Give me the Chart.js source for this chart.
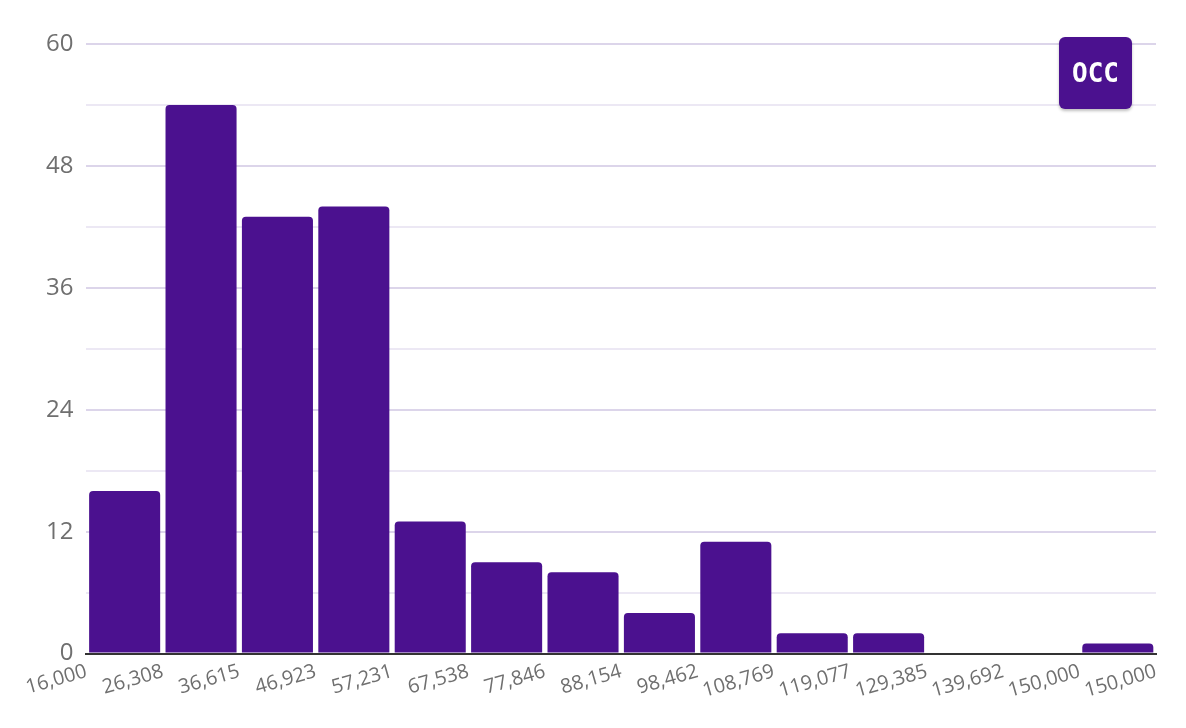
<!DOCTYPE html>
<html lang="es">
<head>
  <meta charset="UTF-8">
  <title>Histograma salarios</title>
  <script src="https://cdn.jsdelivr.net/npm/chart.js"></script>
  <style>
    html, body { margin: 0; padding: 0; background: #fff; }
    #wrap { position: relative; width: 1186px; height: 728px; }
    #logo {
      position: absolute; left: 1059px; top: 37px; width: 73px; height: 72px;
      background: #4b118f; border-radius: 6px; box-shadow: 0 2px 3px rgba(0,0,0,0.25);
      color: #fff; font-family: "DejaVu Sans Mono", monospace; font-weight: bold;
      font-size: 26px; letter-spacing: 0px; text-align: center; line-height: 72px;
      box-sizing: border-box;
    }
  </style>
</head>
<body>
  <div id="wrap">
    <canvas id="grafico" width="1186" height="728"></canvas>
    <div id="logo">OCC</div>
  </div>

  <script>
    // bordes de los intervalos (etiquetas del eje x)
    const bordes = ["16,000", "26,308", "36,615", "46,923", "57,231", "67,538", "77,846",
                    "88,154", "98,462", "108,769", "119,077", "129,385", "139,692", "150,000", "150,000"];
    // frecuencia de cada intervalo
    const frecuencias = [16, 54, 43, 44, 13, 9, 8, 4, 11, 2, 2, 0, 0, 1];

    const puntos = frecuencias.map((f, i) => ({ x: i + 0.5, y: f }));

    const ctx = document.getElementById('grafico').getContext('2d');
    new Chart(ctx, {
      type: 'bar',
      data: {
        datasets: [{
          data: puntos,
          backgroundColor: '#4b118f',
          borderRadius: { topLeft: 4, topRight: 4 },
          borderSkipped: 'bottom',
          barPercentage: 1,
          categoryPercentage: 0.93
        }]
      },
      options: {
        responsive: false,
        animation: false,
        layout: { padding: { left: 33, right: 30, top: 44, bottom: 19 } },
        plugins: { legend: { display: false }, tooltip: { enabled: false } },
        scales: {
          x: {
            type: 'linear',
            min: 0,
            max: 14,
            offset: false,
            grid: { display: false, drawTicks: false },
            border: { display: true, color: '#333', width: 2 },
            ticks: {
              stepSize: 1,
              autoSkip: false,
              minRotation: 16,
              maxRotation: 16,
              padding: 6,
              color: '#6f6f6f',
              font: { family: 'Open Sans', size: 20 },
              callback: (v) => bordes[v]
            }
          },
          y: {
            min: 0,
            max: 60,
            grid: {
              drawTicks: false,
              color: (c) => (c.tick.value % 12 === 0 ? '#dcd5ea' : '#ece8f4'),
              lineWidth: 2
            },
            border: { display: false },
            ticks: {
              stepSize: 6,
              padding: 13,
              color: '#6f6f6f',
              font: { family: 'Open Sans', size: 24 },
              callback: (v) => (v % 12 === 0 ? v : '')
            }
          }
        }
      }
    });
  </script>
</body>
</html>
